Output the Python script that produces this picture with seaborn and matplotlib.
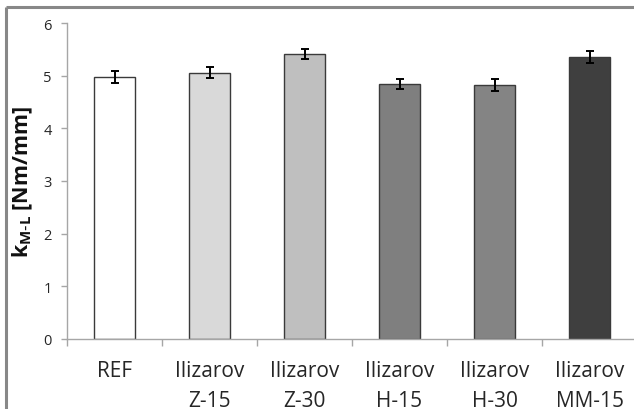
import matplotlib
matplotlib.use("Agg")
import matplotlib.pyplot as plt
from matplotlib.lines import Line2D
import numpy as np
import pandas as pd
import seaborn as sns

# Stiffness per fixator configuration
categories = ["REF", "Ilizarov\nZ-15", "Ilizarov\nZ-30", "Ilizarov\nH-15", "Ilizarov\nH-30", "Ilizarov\nMM-15"]
stiffness = [4.97, 5.06, 5.41, 4.84, 4.82, 5.35]
stiffness_err = [0.11, 0.10, 0.10, 0.10, 0.11, 0.11]
bar_colors = ["#ffffff", "#d9d9d9", "#bfbfbf", "#7f7f7f", "#848484", "#3f3f3f"]
y_ticks = [0, 1, 2, 3, 4, 5, 6]

df = pd.DataFrame({"config": categories, "k": stiffness})

sns.set_theme(style="white")
plt.rcParams["font.family"] = ["Open Sans", "DejaVu Sans"]

W, H = 634, 410
fig = plt.figure(figsize=(W / 100, H / 100), dpi=100)
ax = fig.add_axes([67 / W, 1 - 340 / H, 570 / W, (340 - 24) / H])

sns.barplot(data=df, x="config", y="k", hue="config", palette=bar_colors,
            legend=False, width=0.44, edgecolor="#3a3a3a", linewidth=1.0,
            saturation=1, ax=ax)
ax.errorbar(np.arange(len(categories)), stiffness, yerr=stiffness_err, fmt="none",
            ecolor="black", elinewidth=1.4, capsize=2.6, capthick=1.4, zorder=5)

ax.set_xlim(-0.5, len(categories) - 0.5)
ax.set_ylim(0, 6)
ax.set_yticks(y_ticks)
ax.set_xlabel("")
ax.set_ylabel(r"k$_{\mathregular{M\text{-}L}}$ [Nm/mm]", fontsize=15.5, fontweight="bold",
              color="#111111")
ax.yaxis.set_label_coords(-32 / 570, 0.5)

for side in ("top", "right"):
    ax.spines[side].set_visible(False)
for side in ("left", "bottom"):
    ax.spines[side].set_color("#a6a6a6")
    ax.spines[side].set_linewidth(1.0)

ax.tick_params(axis="y", which="major", direction="out", length=4, width=1,
               color="#a6a6a6", pad=7, labelsize=10.5, labelcolor="#262626", left=True)
ax.tick_params(axis="x", which="major", length=0, pad=15, labelsize=15,
               labelcolor="#262626")
for t in ax.get_xticklabels():
    t.set_linespacing(1.6)
ax.set_xticks(np.arange(-0.5, len(categories), 1.0), minor=True)
ax.tick_params(axis="x", which="minor", direction="out", length=5, width=1,
               color="#a6a6a6", bottom=True)

# frame around the chart area
frame = dict(color="#888888", linewidth=2.2, solid_capstyle="butt")
fig.add_artist(Line2D([6 / W, 1.0], [1 - 8 / H, 1 - 8 / H], transform=fig.transFigure, **frame))
fig.add_artist(Line2D([6 / W, 6 / W], [1 - 8 / H, 0.0], transform=fig.transFigure, **frame))

fig.savefig("out.png", dpi=100)
